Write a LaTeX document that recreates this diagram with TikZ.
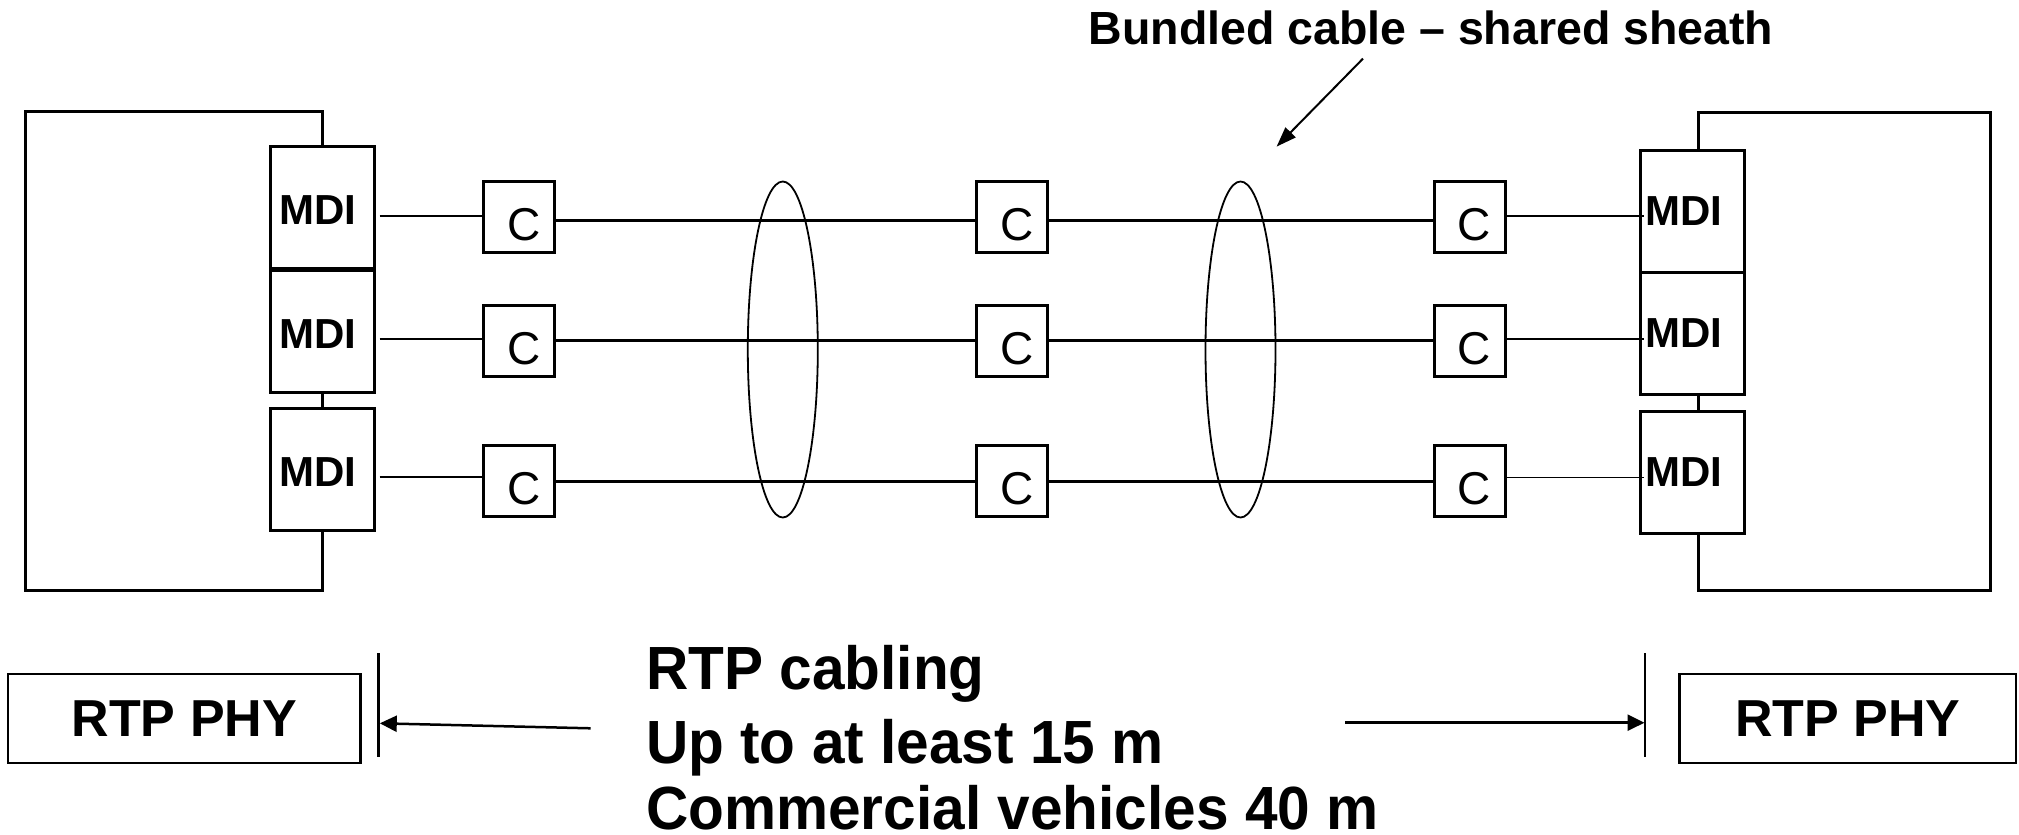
\documentclass[tikz,border=0pt]{standalone}
\usepackage{fontspec}
\setmainfont{Liberation Sans}
\newfontfamily\midfont[FakeStretch=0.96]{Liberation Sans}
\usetikzlibrary{shapes.geometric,arrows.meta}
\tikzset{
  outerbox/.style={draw, line width=3pt},
  mdibox/.style={draw, fill=white, line width=3pt, minimum width=104pt, minimum height=122pt, inner sep=0pt},
  mdiL/.style={mdibox, label={[font=\fontsize{42}{50}\selectfont\bfseries, inner sep=0pt, xshift=-4pt, yshift=-3pt]center:MDI}},
  mdiR/.style={mdibox, label={[font=\fontsize{42}{50}\selectfont\bfseries, inner sep=0pt, xshift=-8.5pt]center:MDI}},
  cbox/.style={draw, fill=white, line width=3pt, minimum width=71pt, minimum height=71pt, inner sep=0pt,
    label={[font=\fontsize{46}{55}\selectfont, inner sep=0pt, xshift=5pt, yshift=-7.5pt]center:C}},
  thinw/.style={line width=1.7pt},
  thickw/.style={line width=3.2pt},
  sheath/.style={draw, ellipse, line width=1.8pt, minimum width=70pt, minimum height=336pt, inner sep=0pt},
  phybox/.style={draw, line width=2.5pt, minimum height=89pt, inner sep=0pt, font=\fontsize{52}{62}\selectfont\bfseries},
  barline/.style={line width=2.5pt},
  arr/.style={line width=2.5pt, -{Triangle[length=17pt,width=16pt]}},
  tarr/.style={line width=2pt, -{Triangle[length=20pt,width=14pt]}},
  bigtext/.style={anchor=base west, inner sep=0pt, font=\midfont\fontsize{61}{73}\selectfont\bfseries},
}
\begin{document}
\begin{tikzpicture}[x=1pt,y=-1pt]
\useasboundingbox (0,0) rectangle (2019,835);

% outer enclosures
\draw[outerbox] (25.6,111.7) rectangle (322,590);
\draw[outerbox] (1698,112.3) rectangle (1990.6,590);

% MDI boxes
\node[mdiL] (m11) at (322,207.5) {};
\node[mdiL] (m12) at (322,331.5) {};
\node[mdiL] (m13) at (322,469) {};
\node[mdiR] (m21) at (1692.3,211) {};
\node[mdiR] (m22) at (1692.3,333.5) {};
\node[mdiR] (m23) at (1692.3,472) {};

% sheath ellipses
\node[sheath] (e1) at (782.8,349.5) {};
\node[sheath] (e2) at (1240.5,349.5) {};

% C boxes
\node[cbox] (c11) at (519.3,217.2) {};
\node[cbox] (c12) at (1011.8,217.2) {};
\node[cbox] (c13) at (1469.5,217.2) {};
\node[cbox] (c21) at (519.3,340.7) {};
\node[cbox] (c22) at (1011.8,340.7) {};
\node[cbox] (c23) at (1469.5,340.7) {};
\node[cbox] (c31) at (519.3,481.3) {};
\node[cbox] (c32) at (1011.8,481.3) {};
\node[cbox] (c33) at (1469.5,481.3) {};

% MDI - C connectors (left)
\draw[thinw] ([xshift=4pt,yshift=1pt]m11.east |- c11.west) -- ([yshift=1pt]c11.west);
\draw[thinw] ([xshift=4pt,yshift=1.4pt]m12.east |- c21.west) -- ([yshift=1.4pt]c21.west);
\draw[thinw] ([xshift=4pt,yshift=4pt]m13.east |- c31.west) -- ([yshift=4pt]c31.west);
% C - MDI connectors (right)
\draw[thinw] ([yshift=1pt]c13.east) -- ([xshift=5pt,yshift=1pt]m21.west |- c13.east);
\draw[thinw] ([yshift=1.5pt]c23.east) -- ([xshift=5pt,yshift=1.5pt]m22.west |- c23.east);
\draw[thinw] ([yshift=3.7pt]c33.east) -- ([xshift=5pt,yshift=3.7pt]m23.west |- c33.east);

% cable runs
\draw[thickw] ([yshift=-3pt]c11.east) -- ([yshift=-3pt]c12.west);
\draw[thickw] ([yshift=-3pt]c12.east) -- ([yshift=-3pt]c13.west);
\draw[thickw] (c21.east) -- (c22.west);
\draw[thickw] (c22.east) -- (c23.west);
\draw[thickw] (c31.east) -- (c32.west);
\draw[thickw] (c32.east) -- (c33.west);

% title and arrow
\node[anchor=base, inner sep=0pt, font=\fontsize{46.5}{56}\selectfont\bfseries] (title) at (1431,44.8) {Bundled cable – shared sheath};
\coordinate (ta) at (1363,58.6);
\coordinate (tb) at (1276.6,146.6);
\draw[tarr] (ta) -- (tb);

% bottom: PHY boxes
\node[phybox, minimum width=352.7pt] (phyL) at (184.35,718.5) {RTP PHY};
\node[phybox, minimum width=336.4pt] (phyR) at (1847.8,718.5) {RTP PHY};

% limit bars
\coordinate (bl1) at (378.6,653);
\coordinate (bl2) at (378.6,757);
\coordinate (br1) at (1644.8,653);
\coordinate (br2) at (1644.8,757);
\draw[barline] (bl1) -- (bl2);
\draw[barline] (br1) -- (br2);

% length arrows
\coordinate (la) at (590.6,728.3);
\coordinate (lt) at (379.8,723.3);
\coordinate (ra) at (1345,722.7);
\coordinate (rt) at (1644.5,722.7);
\draw[arr] (la) -- (lt);
\draw[arr] (ra) -- (rt);

% middle text
\node[bigtext] (t1) at (646,689.3) {RTP cabling};
\node[bigtext] (t2) at (646,763) {Up to at least 15 m};
\node[bigtext] (t3) at (646,829.5) {Commercial vehicles 40 m};
\end{tikzpicture}
\end{document}
